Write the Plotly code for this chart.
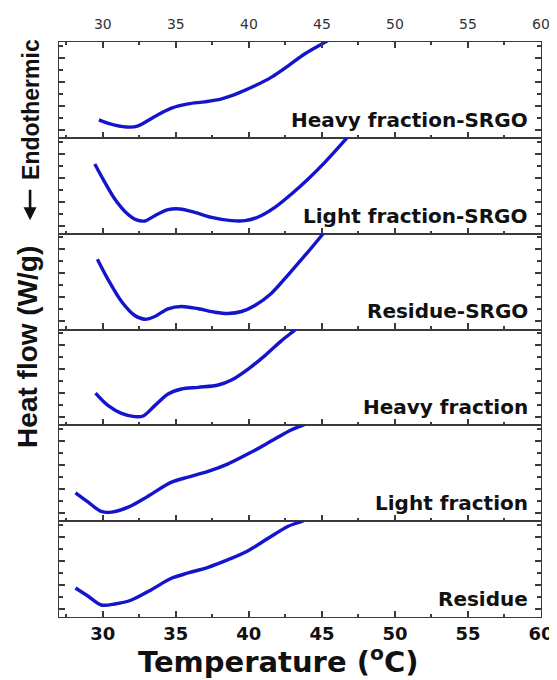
import plotly.graph_objects as go
from plotly.subplots import make_subplots

# ---- data (temperature in °C, heat flow in arbitrary units, offset per panel) ----
labels = ["Heavy fraction-SRGO", "Light fraction-SRGO", "Residue-SRGO",
          "Heavy fraction", "Light fraction", "Residue"]

t_heavy_srgo = [29.73, 30.82, 31.85, 32.42, 33.56, 34.70, 35.84, 36.99, 38.13, 39.27, 40.41, 41.55, 42.69, 43.84, 45.2, 45.6]
v_heavy_srgo = [18, 12.7, 10.7, 12, 21.3, 29.7, 34, 36, 39, 44.7, 52, 60.7, 72, 84, 95.5, 99]

t_light_srgo = [29.45, 30.14, 30.82, 31.62, 32.31, 32.88, 33.56, 34.47, 35.27, 36.30, 37.44, 38.81, 39.73, 40.64, 41.78, 42.92, 44.06, 45.2, 46.35, 46.9]
v_light_srgo = [69.7, 51.3, 34.7, 20.7, 13.7, 12.7, 18, 24, 24.7, 21.3, 16.3, 13, 13, 16.7, 26.3, 39.7, 54.7, 71.3, 89.7, 99]

t_residue_srgo = [29.63, 30.37, 31.28, 32.19, 32.88, 33.56, 34.47, 35.39, 36.53, 37.67, 38.58, 39.50, 40.41, 41.55, 42.69, 43.84, 44.98, 45.3]
v_residue_srgo = [70.3, 49.7, 28, 14, 10.3, 13, 20.7, 23, 20.7, 17.3, 16, 18, 24, 36.3, 54.7, 74, 94, 100]

t_heavy = [29.5, 30.37, 31.28, 32.19, 32.76, 33.56, 34.47, 35.39, 36.53, 37.9, 38.81, 39.95, 41.1, 42.24, 43.15, 43.4]
v_heavy = [32.3, 19.7, 12, 8.7, 9.3, 19.7, 31.3, 36.3, 38, 40.3, 45.3, 56.3, 69.7, 84.7, 95.3, 99]

t_light = [28.13, 29.0, 29.9, 30.6, 31.74, 33.1, 34.7, 35.84, 37.21, 38.58, 39.95, 41.32, 42.69, 43.84, 44.1]
v_light = [28.3, 19, 9.7, 9, 14, 25, 39, 44, 49.7, 57.3, 67.3, 78.3, 89.7, 97, 99]

t_residue = [28.13, 29.0, 29.9, 30.82, 31.96, 33.33, 34.7, 35.84, 37.21, 38.58, 39.95, 41.32, 42.69, 43.72, 44.0]
v_residue = [29, 20.7, 12, 13, 17, 27.3, 38.7, 44, 49.7, 57.3, 66.3, 78.7, 90.7, 96.3, 99]

series_t = [t_heavy_srgo, t_light_srgo, t_residue_srgo, t_heavy, t_light, t_residue]
series_v = [v_heavy_srgo, v_light_srgo, v_residue_srgo, v_heavy, v_light, v_residue]

x_tickvals = [30, 35, 40, 45, 50, 55, 60]
x_ticktext = ["30", "35", "40", "45", "50", "55", "60"]
x_minorvals = [27.5, 32.5, 37.5, 42.5, 47.5, 52.5, 57.5]

# ---- figure ----
fig = make_subplots(rows=6, cols=1, shared_xaxes=False, vertical_spacing=0)

blue = "#1414cc"
axis_col = "#3a3a3a"

for i, (t, v) in enumerate(zip(series_t, series_v)):
    row = i + 1
    fig.add_trace(go.Scatter(x=t, y=v, mode="lines",
                             line=dict(color=blue, width=3.4, shape="spline", smoothing=0.9),
                             showlegend=False, hoverinfo="skip"),
                  row=row, col=1)
    fig.add_annotation(x=59.25, y=18, xref=f"x{row}" if row > 1 else "x",
                       yref=f"y{row}" if row > 1 else "y",
                       text=labels[i], showarrow=False, xanchor="right", yanchor="middle",
                       font=dict(family="DejaVu Sans", size=20, color="#111111", weight="bold"))

    common_x = dict(range=[27, 60], tickvals=x_tickvals, ticktext=x_ticktext,
                    ticks="inside", ticklen=6, tickwidth=1.5, tickcolor=axis_col,
                    minor=dict(tickvals=x_minorvals,
                               ticks="inside", ticklen=3, tickwidth=1.5, tickcolor=axis_col),
                    showline=True, linecolor=axis_col, linewidth=1.2,
                    showgrid=False, zeroline=False, automargin=False)
    if row == 1:
        fig.update_xaxes(side="top", mirror="ticks", showticklabels=True,
                         ticklabelstandoff=6,
                         tickfont=dict(family="DejaVu Sans", size=14, color="#333333"),
                         row=row, col=1, **common_x)
    elif row == 6:
        fig.update_xaxes(side="bottom", mirror=True, showticklabels=True,
                         ticklabelstandoff=0,
                         tickfont=dict(family="DejaVu Sans", size=18, color="#111111", weight="bold"),
                         row=row, col=1, **common_x)
    else:
        fig.update_xaxes(side="bottom", mirror=True, showticklabels=False,
                         row=row, col=1, **common_x)

    fig.update_yaxes(range=[0, 95.8], tick0=8, dtick=24, ticks="inside", ticklen=6,
                     tickwidth=1.5, tickcolor=axis_col,
                     minor=dict(tick0=8, dtick=12, ticks="inside", ticklen=4,
                                tickwidth=1.5, tickcolor=axis_col),
                     showticklabels=False, showline=True, linecolor=axis_col, linewidth=1.2,
                     mirror="ticks", showgrid=False, zeroline=False, automargin=False,
                     row=row, col=1)

# axis titles as annotations
fig.add_annotation(xref="paper", yref="paper", x=0.455, y=-0.074,
                   text="Temperature (<sup>o</sup>C)", showarrow=False,
                   xanchor="center", yanchor="middle",
                   font=dict(family="DejaVu Sans", size=29, color="#111111", weight="bold"))
fig.add_annotation(xref="paper", yref="paper", x=-0.064, y=0.47,
                   text="Heat flow (W/g)", showarrow=False, textangle=-90,
                   xanchor="center", yanchor="middle",
                   font=dict(family="Liberation Sans", size=28, color="#111111", weight="bold"))
fig.add_annotation(xref="paper", yref="paper", x=-0.058, y=0.882,
                   text="Endothermic", showarrow=False, textangle=-90,
                   xanchor="center", yanchor="middle",
                   font=dict(family="Liberation Sans", size=23, color="#111111", weight="bold"))
# the downward arrow below "Endothermic"
fig.add_annotation(xref="paper", yref="paper", x=-0.060, y=0.69,
                   text="", showarrow=True, ax=0, ay=-32,
                   arrowhead=2, arrowsize=1, arrowwidth=2.6, arrowcolor="#111111")

# page body has an 8px default margin, so the figure is sized/offset to compensate
fig.update_layout(width=549, height=672,
                  margin=dict(l=51, r=16, t=34, b=63, autoexpand=False),
                  plot_bgcolor="white", paper_bgcolor="white")

fig.write_html("out.html")
